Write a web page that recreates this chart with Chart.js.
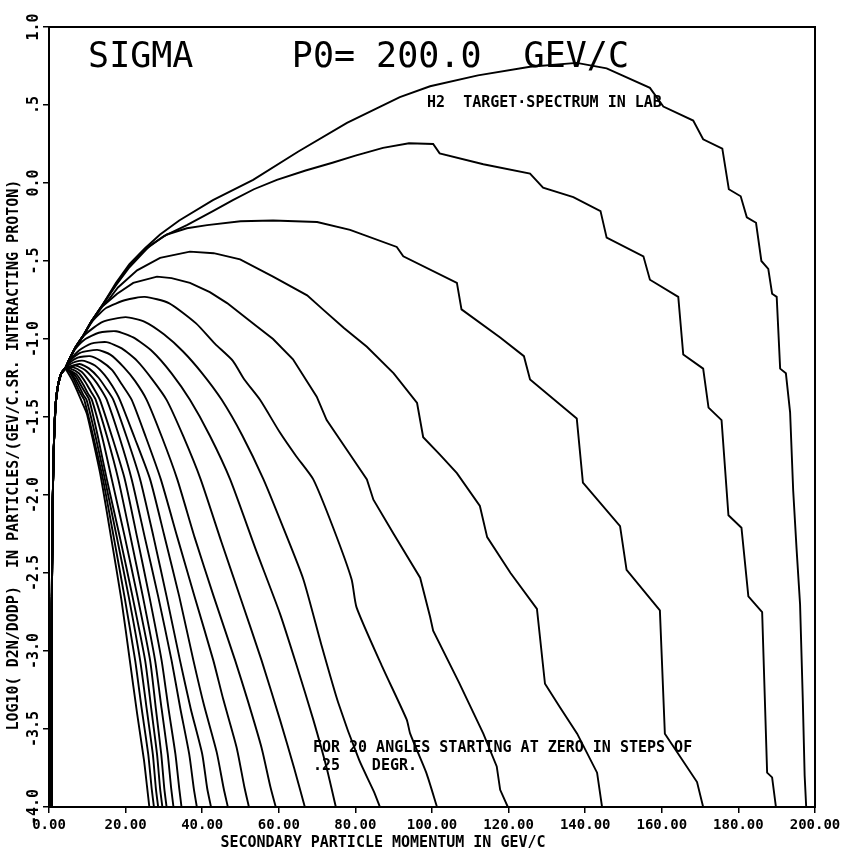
<!DOCTYPE html>
<html>
<head>
<meta charset="utf-8">
<script src="https://cdn.jsdelivr.net/npm/chart.js@4.4.1/dist/chart.umd.min.js"></script>
<style>
  html, body { margin: 0; padding: 0; background: #fff; }
  #wrap { width: 856px; height: 851px; position: relative; }
</style>
</head>
<body>
<div id="wrap"><canvas id="sigmaChart"></canvas></div>
<script>
// Axis ticks
const xTickValues = [0, 20, 40, 60, 80, 100, 120, 140, 160, 180, 200];
const xTickLabels = ['0.00', '20.00', '40.00', '60.00', '80.00', '100.00', '120.00', '140.00', '160.00', '180.00', '200.00'];
const yTickValues = [1, 0.5, 0, -0.5, -1, -1.5, -2, -2.5, -3, -3.5, -4];
const yTickLabels = ['1.0', '.5', '0.0', '-.5', '-1.0', '-1.5', '-2.0', '-2.5', '-3.0', '-3.5', '-4.0'];

// Angles in degrees (steps of .25)
const angles = [0, 0.25, 0.5, 0.75, 1.0, 1.25, 1.5, 1.75, 2.0, 2.25, 2.5, 2.75, 3.0, 3.25, 3.5, 3.75, 4.0, 4.25, 4.5, 4.75, 5.0];

// common steep rise at low momentum, shared by every angle
const rise = [[0.6,-4],[0.65,-3.3],[0.75,-2.7],[0.9,-2.2],[1.1,-1.85],[1.4,-1.58],[1.8,-1.4],[2.4,-1.29],[3.2,-1.22],[4.2,-1.19]];

// [momentum GeV/c, log10 d2N/dOdP] per angle, after the common rise
const deg000 = [[5.5,-1.12],[7,-1.05],[8.9,-0.98],[11,-0.89],[14,-0.78],[17.5,-0.64],[21,-0.52],[25,-0.42],[29,-0.33],[34,-0.24],[42.8,-0.11],[53.3,0.02],[65,0.2],[77.8,0.385],[91.6,0.55],[99.5,0.62],[112,0.69],[125.6,0.745],[137.8,0.77],[145.6,0.735],[156.9,0.61],[160.4,0.49],[168.2,0.40],[170.8,0.28],[175.8,0.22],[177.5,-0.04],[180.6,-0.085],[182.2,-0.22],[184.6,-0.255],[186,-0.5],[187.8,-0.55],[188.8,-0.71],[190,-0.73],[190.9,-1.19],[192.4,-1.22],[193.5,-1.47],[194.3,-1.97],[195.2,-2.35],[196.1,-2.7],[196.8,-3.3],[197.3,-3.8],[197.7,-4]];
const deg025 = [[5.5,-1.12],[7,-1.05],[8.9,-0.98],[11,-0.89],[14,-0.78],[17.5,-0.65],[21,-0.53],[25,-0.43],[30,-0.34],[36,-0.27],[42.8,-0.18],[48,-0.11],[53.5,-0.04],[59.5,0.02],[67,0.08],[74,0.13],[80,0.175],[87.2,0.225],[94,0.255],[100.3,0.25],[102,0.19],[113.4,0.12],[125.6,0.06],[129,-0.03],[136.9,-0.09],[144,-0.18],[145.6,-0.35],[155.2,-0.47],[156.9,-0.62],[164.3,-0.73],[165.6,-1.1],[170.8,-1.19],[172.2,-1.44],[175.6,-1.52],[177.4,-2.13],[180.8,-2.21],[182.6,-2.65],[186.2,-2.75],[187.5,-3.78],[188.8,-3.81],[189.8,-4]];
const deg050 = [[5.5,-1.12],[7,-1.05],[8.9,-0.98],[11,-0.89],[14,-0.78],[17.5,-0.655],[21,-0.54],[26.4,-0.4],[30.8,-0.33],[36,-0.29],[41.3,-0.27],[50,-0.245],[58.5,-0.24],[70,-0.25],[78.6,-0.30],[90.8,-0.41],[92.5,-0.47],[106.5,-0.64],[107.7,-0.81],[117.8,-0.99],[124,-1.11],[125.6,-1.26],[137.8,-1.51],[139.4,-1.92],[149.1,-2.2],[150.8,-2.48],[159.5,-2.74],[160.8,-3.53],[169.2,-3.84],[170.8,-4]];
const deg075 = [[5.5,-1.12],[7,-1.05],[8.9,-0.98],[11,-0.89],[13.5,-0.8],[15.5,-0.75],[18,-0.67],[23,-0.56],[29,-0.48],[36.8,-0.44],[43,-0.45],[49.9,-0.49],[58.5,-0.6],[67.4,-0.72],[71.5,-0.81],[77,-0.93],[83,-1.05],[90,-1.22],[96.1,-1.41],[97.7,-1.63],[102,-1.74],[106.5,-1.86],[112.5,-2.07],[114.4,-2.27],[120.5,-2.5],[127.4,-2.73],[129.5,-3.21],[133.4,-3.36],[137.9,-3.53],[143.1,-3.78],[144.4,-4]];
const deg100 = [[5.5,-1.12],[7,-1.05],[8.9,-0.98],[11,-0.89],[14,-0.79],[17.8,-0.71],[22,-0.64],[28.2,-0.6],[32,-0.61],[36.8,-0.64],[42,-0.7],[46.5,-0.77],[53.3,-0.9],[58.5,-1.0],[63.7,-1.13],[69.9,-1.37],[72.5,-1.52],[78.6,-1.74],[83,-1.9],[84.7,-2.03],[90,-2.25],[96.9,-2.53],[99.5,-2.78],[100.3,-2.87],[107,-3.2],[113.4,-3.53],[116.9,-3.74],[117.8,-3.89],[119.8,-4]];
const deg125 = [[5.5,-1.12],[7,-1.05],[8.9,-0.98],[11.5,-0.88],[15,-0.8],[20,-0.75],[25,-0.73],[31.3,-0.77],[38.4,-0.9],[43.3,-1.03],[48,-1.14],[51,-1.26],[55.1,-1.39],[60.3,-1.6],[64.5,-1.75],[69,-1.9],[74.2,-2.21],[79,-2.54],[80.3,-2.72],[87,-3.1],[93.4,-3.44],[94.3,-3.53],[98.5,-3.78],[101.3,-4]];
const deg150 = [[5.5,-1.12],[7,-1.05],[9.5,-0.97],[14,-0.89],[20,-0.86],[25,-0.89],[30,-0.97],[35,-1.08],[40,-1.22],[45.1,-1.39],[50.5,-1.62],[56,-1.9],[61,-2.2],[66.4,-2.54],[71,-2.95],[75.5,-3.33],[81,-3.7],[84.8,-3.9],[86.4,-4]];
const deg175 = [[5.5,-1.12],[7,-1.06],[9.5,-1.0],[13,-0.96],[17.5,-0.95],[22,-0.99],[27,-1.08],[32,-1.22],[36.8,-1.39],[42,-1.62],[47.3,-1.9],[54,-2.35],[60.3,-2.76],[64.5,-3.08],[69,-3.44],[72.5,-3.75],[74.9,-4]];
const deg200 = [[5.3,-1.14],[8,-1.07],[11,-1.03],[15,-1.02],[19,-1.06],[23,-1.14],[27,-1.26],[30.7,-1.39],[35,-1.62],[39.6,-1.9],[45,-2.3],[50,-2.66],[55.5,-3.06],[60.3,-3.44],[64,-3.75],[66.8,-4]];
const deg225 = [[5,-1.15],[8,-1.09],[12.6,-1.07],[16,-1.1],[19.5,-1.18],[22.5,-1.27],[25.5,-1.39],[29.5,-1.63],[33.5,-1.9],[38,-2.27],[43,-2.65],[48.6,-3.06],[51.8,-3.31],[55.5,-3.62],[57.8,-3.87],[59.2,-4]];
const deg250 = [[5,-1.16],[7.5,-1.12],[10.7,-1.11],[13.5,-1.14],[16.5,-1.2],[19,-1.29],[21.6,-1.39],[25.3,-1.63],[29.2,-1.9],[33.5,-2.27],[38,-2.65],[42.9,-3.06],[45.5,-3.31],[49,-3.62],[51,-3.87],[52.2,-4]];
const deg275 = [[5,-1.17],[7,-1.145],[9.2,-1.14],[12,-1.17],[14.5,-1.23],[16.5,-1.3],[18.5,-1.39],[22.3,-1.63],[26.4,-1.9],[30,-2.25],[34,-2.65],[37.7,-3.06],[40.5,-3.35],[43.8,-3.65],[45.6,-3.88],[46.7,-4]];
const deg300 = [[5,-1.18],[8,-1.16],[10.5,-1.19],[13,-1.25],[15,-1.32],[16.8,-1.39],[20.3,-1.63],[23.8,-1.9],[27.3,-2.27],[30.7,-2.65],[34.2,-3.06],[37,-3.37],[40,-3.66],[41.3,-3.88],[42.3,-4]];
const deg325 = [[5,-1.18],[7,-1.17],[9.5,-1.2],[11.8,-1.26],[13.5,-1.32],[15.1,-1.39],[18.4,-1.63],[21.6,-1.9],[25,-2.27],[28.5,-2.65],[32,-3.06],[34.3,-3.37],[36.6,-3.66],[37.8,-3.88],[38.6,-4]];
const deg350 = [[5,-1.185],[6.2,-1.18],[8.5,-1.21],[10.5,-1.27],[12,-1.33],[13.3,-1.39],[16.5,-1.63],[19.8,-1.9],[23,-2.27],[26.2,-2.65],[29.4,-3.06],[31.2,-3.37],[33,-3.66],[34,-3.88],[34.6,-4]];
const deg375 = [[5.6,-1.19],[7.8,-1.22],[9.6,-1.28],[11,-1.34],[12.2,-1.39],[15.2,-1.63],[18.1,-1.9],[21.3,-2.27],[24.5,-2.65],[27.7,-3.06],[29.4,-3.37],[31,-3.66],[31.9,-3.88],[32.5,-4]];
const deg400 = [[5.3,-1.2],[7.3,-1.23],[8.9,-1.29],[10.2,-1.35],[11.2,-1.39],[13.9,-1.63],[16.4,-1.9],[19.8,-2.27],[23.1,-2.65],[26.4,-3.06],[27.9,-3.37],[29.3,-3.66],[30.1,-3.88],[30.7,-4]];
const deg425 = [[5.2,-1.2],[7,-1.24],[8.4,-1.3],[9.6,-1.35],[10.5,-1.39],[12.8,-1.63],[15.1,-1.9],[18.5,-2.27],[21.8,-2.65],[25.1,-3.06],[26.7,-3.37],[28.2,-3.66],[29,-3.88],[29.6,-4]];
const deg450 = [[5.1,-1.2],[6.7,-1.25],[8,-1.31],[9,-1.36],[9.8,-1.39],[12.2,-1.63],[14.6,-1.9],[17.7,-2.27],[20.8,-2.65],[23.8,-3.06],[25.5,-3.37],[27.1,-3.66],[27.9,-3.88],[28.5,-4]];
const deg475 = [[5,-1.2],[6.5,-1.26],[7.6,-1.32],[8.5,-1.36],[9.2,-1.39],[11.6,-1.63],[14.1,-1.9],[16.9,-2.27],[19.7,-2.65],[22.5,-3.06],[24.2,-3.37],[25.9,-3.66],[26.8,-3.88],[27.4,-4]];
const deg500 = [[4.8,-1.21],[6.2,-1.27],[7.3,-1.33],[8.7,-1.41],[9.9,-1.48],[11.5,-1.65],[13.5,-1.88],[16.2,-2.27],[18.9,-2.67],[21.1,-3.06],[23,-3.4],[24.8,-3.7],[25.6,-3.87],[26.2,-4]];

const curves = [deg000, deg025, deg050, deg075, deg100, deg125, deg150, deg175, deg200, deg225,
                deg250, deg275, deg300, deg325, deg350, deg375, deg400, deg425, deg450, deg475, deg500];

const plotFont = '"DejaVu Sans Mono", "Liberation Mono", monospace';

// Box, tick labels, titles and notes
const framePlugin = {
  id: 'framePlugin',
  afterDraw(chart) {
    const ctx = chart.ctx;
    const area = chart.chartArea;
    const xs = chart.scales.x;
    const ys = chart.scales.y;

    ctx.save();
    ctx.strokeStyle = '#000';
    ctx.lineWidth = 2;
    ctx.strokeRect(area.left, area.top, area.right - area.left, area.bottom - area.top);

    ctx.fillStyle = '#000';

    // x tick labels
    ctx.font = 'bold 14px ' + plotFont;
    ctx.textAlign = 'center';
    ctx.textBaseline = 'middle';
    xTickValues.forEach((v, i) => {
      ctx.fillText(xTickLabels[i], xs.getPixelForValue(v), area.bottom + 18);
    });

    // y tick labels, rotated
    ctx.font = 'bold 15px ' + plotFont;
    yTickValues.forEach((v, i) => {
      ctx.save();
      ctx.translate(area.left - 15, ys.getPixelForValue(v));
      ctx.rotate(-Math.PI / 2);
      ctx.fillText(yTickLabels[i], 0, 0);
      ctx.restore();
    });

    // axis titles
    ctx.font = 'bold 15px ' + plotFont;
    ctx.textAlign = 'center';
    ctx.textBaseline = 'alphabetic';
    ctx.fillText('SECONDARY PARTICLE MOMENTUM IN GEV/C', xs.getPixelForValue(87.2), area.bottom + 40);

    ctx.save();
    ctx.translate(area.left - 31, ys.getPixelForValue(-3.51));
    ctx.rotate(-Math.PI / 2);
    ctx.textAlign = 'left';
    ctx.fillText('LOG10( D2N/DODP)  IN PARTICLES/(GEV/C.SR. INTERACTING PROTON)', 0, 0);
    ctx.restore();

    // big title inside the box
    ctx.font = '35px ' + plotFont;
    ctx.textAlign = 'left';
    ctx.fillText('SIGMA', xs.getPixelForValue(10.2), ys.getPixelForValue(0.744));
    ctx.fillText('P0= 200.0  GEV/C', xs.getPixelForValue(63.4), ys.getPixelForValue(0.744));

    // notes
    ctx.font = 'bold 15px ' + plotFont;
    ctx.fillText('H2  TARGET\u00B7SPECTRUM IN LAB', xs.getPixelForValue(98.7), ys.getPixelForValue(0.487));
    ctx.fillText('FOR 20 ANGLES STARTING AT ZERO IN STEPS OF', xs.getPixelForValue(68.9), ys.getPixelForValue(-3.65));
    ctx.fillText('.25', xs.getPixelForValue(68.9), ys.getPixelForValue(-3.765));
    ctx.fillText('DEGR.', xs.getPixelForValue(84.3), ys.getPixelForValue(-3.765));
    ctx.restore();
  }
};

const ctx = document.getElementById('sigmaChart').getContext('2d');
new Chart(ctx, {
  type: 'scatter',
  data: {
    datasets: curves.map((c, i) => ({
      label: angles[i] + ' deg',
      data: rise.concat(c).map(p => ({ x: p[0], y: p[1] })),
      showLine: true,
      borderColor: '#000',
      borderWidth: 1.9,
      pointRadius: 0,
      // the small-angle curves are jagged, the wider ones smooth
      tension: i < 5 ? 0 : 0.2,
      fill: false
    }))
  },
  options: {
    responsive: true,
    maintainAspectRatio: false,
    animation: false,
    layout: { padding: { top: 27, right: 41, left: 0, bottom: 0 } },
    plugins: {
      legend: { display: false },
      tooltip: { enabled: false }
    },
    scales: {
      x: {
        type: 'linear',
        min: 0,
        max: 200,
        ticks: { stepSize: 20, display: false },
        grid: { drawOnChartArea: false, drawTicks: true, tickLength: 6, color: '#000', lineWidth: 1.5 },
        border: { color: '#000', width: 2 },
        afterFit(scale) { scale.height = 44; }
      },
      y: {
        type: 'linear',
        min: -4,
        max: 1,
        ticks: { stepSize: 0.5, display: false },
        grid: { drawOnChartArea: false, drawTicks: true, tickLength: 6, color: '#000', lineWidth: 1.5 },
        border: { color: '#000', width: 2 },
        afterFit(scale) { scale.width = 49; }
      }
    }
  },
  plugins: [framePlugin]
});
</script>
</body>
</html>
